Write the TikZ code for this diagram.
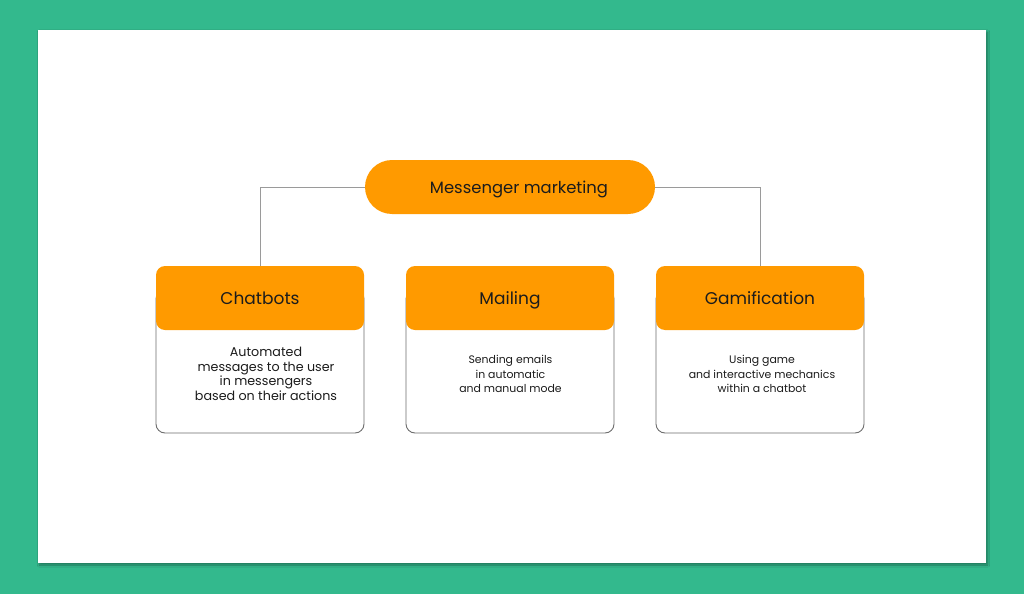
\documentclass[tikz,border=0pt]{standalone}
\usepackage{fontspec}
\setmainfont{Poppins}
\usetikzlibrary{shadows.blur}
\definecolor{bggreen}{HTML}{33B98D}
\definecolor{orng}{HTML}{FF9A00}
\definecolor{outl}{HTML}{6E6E6E}
\definecolor{conn}{HTML}{9A9A9A}
\definecolor{txt}{HTML}{1C1C1C}
\tikzset{
  pill/.style={fill=orng, rounded corners=27pt, minimum width=290pt, minimum height=54pt, inner sep=0pt},
  toptext/.style={font=\fontsize{16.4}{20}\selectfont, text=txt, inner sep=0pt, text height=11.5pt, text depth=0pt},
  head/.style={fill=orng, rounded corners=9pt, minimum width=208pt, minimum height=64pt, inner sep=0pt,
    font=\fontsize{17}{20}\selectfont, text=txt, text height=12pt, text depth=0pt},
  body/.style={draw=outl, line width=0.9pt, fill=white, rounded corners=9pt, minimum width=208pt, minimum height=143pt, inner sep=0pt},
  btext/.style={align=center, font=\fontsize{10.9}{14.6}\selectfont, text=txt, inner sep=0pt},
  bigbtext/.style={btext, font=\fontsize{12.7}{14.7}\selectfont},
  link/.style={draw=conn, line width=0.9pt}
}
\begin{document}
\begin{tikzpicture}[x=1pt,y=-1pt]
\fill[bggreen] (0,0) rectangle (1024,594);
\useasboundingbox (0,0) rectangle (1024,594);
\fill[white, blur shadow={shadow xshift=1.5pt, shadow yshift=-2pt, shadow blur steps=6, shadow opacity=35}] (38,30) rectangle (986,563);

\node[body] (chatb) at (260,361.5) {};
\node[body] (mailb) at (510,361.5) {};
\node[body] (gameb) at (760,361.5) {};

\node[head] (chat) at (260,298) {Chatbots};
\node[head] (mail) at (510,298) {Mailing};
\node[head] (game) at (760,298) {Gamification};

\node[pill] (top) at (510,187) {};
\node[toptext] (toplbl) at (519,188) {Messenger marketing};

\draw[link] (top.west) -| (chat.north);
\draw[link] (top.east) -| (game.north);

\node[bigbtext] (chatt) at (266,374) {Automated\\messages to the user\\in messengers\\based on their actions};
\node[btext] (mailt) at (510.5,374) {Sending emails\\in automatic\\and manual mode};
\node[btext] (gamet) at (762,374) {Using game\\and interactive mechanics\\within a chatbot};
\end{tikzpicture}
\end{document}
